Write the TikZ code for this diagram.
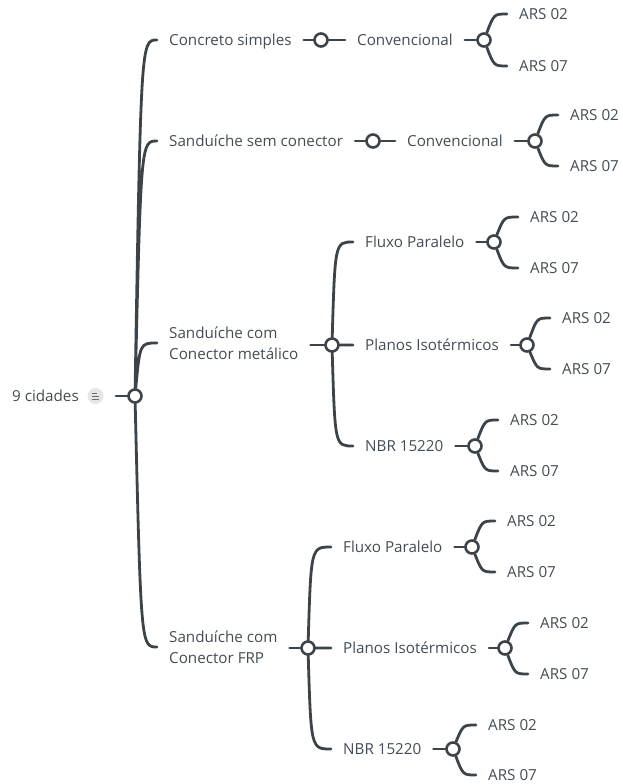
\documentclass[tikz,border=0pt]{standalone}
\usepackage{fontspec}
\setmainfont{Open Sans}
\usepackage{xcolor}
\usetikzlibrary{calc}
\definecolor{linegray}{HTML}{3C4349}
\definecolor{textgray}{HTML}{434C55}
\definecolor{notegray}{HTML}{E4E5E7}
\definecolor{noteline}{HTML}{6A6E73}
\newcommand{\topicfont}{\fontsize{15.2}{21}\selectfont}
\tikzset{
  topic/.style = {anchor=west, inner xsep=12pt, inner ysep=0pt, text=textgray,
                  font=\topicfont, text height=12.9pt, text depth=2pt},
  topictwo/.style = {anchor=west, inner xsep=12pt, inner ysep=0pt, text=textgray,
                     font=\topicfont, align=left},
  hub/.style = {circle, draw=linegray, fill=white, line width=2.6pt,
                minimum size=13pt, inner sep=0pt},
  note/.style = {circle, fill=notegray, minimum size=16pt, inner sep=0pt},
  link/.style = {draw=linegray, line width=2.8pt, line cap=round},
  twig/.style = {to path={.. controls ($(\tikztostart |- \tikztotarget)+(#1,0)$) .. (\tikztotarget)}},
  twig/.default = 4
}
\begin{document}
\begin{tikzpicture}[x=1pt, y=-1pt]
  \useasboundingbox (0,0) rectangle (622,784);
  % root topic
  \node[topic, inner xsep=0pt] (root) at (12,396) {9 cidades};
  \node[note] (rootnote) at (95.5,396) {};
  \draw[noteline, line width=0.9pt] ([shift={(-3.8,3)}]rootnote.center) -- ++(7.6,0)
        ([shift={(-3.8,0)}]rootnote.center) -- ++(7.6,0)
        ([shift={(-3.8,-3)}]rootnote.center) -- ++(5,0);
  \coordinate (rootend) at (116,396);
  \node[hub] (hubR) at (135,396) {};
  % first level
  \node[topic] (concreto) at (157,40) {Concreto simples};
  \node[topic] (semcon) at (157,141) {Sanduíche sem conector};
  \node[topictwo] (metal) at (157,343) {Sanduíche com\\Conector metálico};
  \node[topictwo] (frp) at (157,647) {Sanduíche com\\Conector FRP};
  % concreto simples
  \node[hub] (hubA) at (321,40) {};
  \node[topic] (convA) at (345,40) {Convencional};
  \node[hub] (hubA2) at (484,40) {};
  \node[topic] (arsA1) at (507,14) {ARS 02};
  \node[topic] (arsA2) at (507,66) {ARS 07};
  % sanduiche sem conector
  \node[hub] (hubB) at (373,141) {};
  \node[topic] (convB) at (395,141) {Convencional};
  \node[hub] (hubB2) at (535,141) {};
  \node[topic] (arsB1) at (558,115) {ARS 02};
  \node[topic] (arsB2) at (558,166) {ARS 07};
  % conector metalico
  \node[hub] (hubC) at (332,345) {};
  \node[topic] (fluxoC) at (353,242) {Fluxo Paralelo};
  \node[topic] (planosC) at (353,345) {Planos Isotérmicos};
  \node[topic] (nbrC) at (353,446) {NBR 15220};
  \node[hub] (hubC1) at (494,242) {};
  \node[topic] (arsC1) at (518,217) {ARS 02};
  \node[topic] (arsC2) at (518,268) {ARS 07};
  \node[hub] (hubC2) at (527,345) {};
  \node[topic] (arsC3) at (550,318) {ARS 02};
  \node[topic] (arsC4) at (550,369) {ARS 07};
  \node[hub] (hubC3) at (475,446) {};
  \node[topic] (arsC5) at (498,420) {ARS 02};
  \node[topic] (arsC6) at (498,471) {ARS 07};
  % conector FRP
  \node[hub] (hubD) at (308,648) {};
  \node[topic] (fluxoD) at (331,547) {Fluxo Paralelo};
  \node[topic] (planosD) at (331,648) {Planos Isotérmicos};
  \node[topic] (nbrD) at (331,749) {NBR 15220};
  \node[hub] (hubD1) at (472,547) {};
  \node[topic] (arsD1) at (495,521) {ARS 02};
  \node[topic] (arsD2) at (495,572) {ARS 07};
  \node[hub] (hubD2) at (505,648) {};
  \node[topic] (arsD3) at (528,623) {ARS 02};
  \node[topic] (arsD4) at (528,674) {ARS 07};
  \node[hub] (hubD3) at (453,749) {};
  \node[topic] (arsD5) at (476,725) {ARS 02};
  \node[topic] (arsD6) at (476,775) {ARS 07};
  % connectors
  \draw[link] (rootend) -- (hubR);
  \draw[link] (hubR) to[twig=6] (concreto) (hubR) to[twig=6] (semcon)
              (hubR) to[twig=5] (metal) (hubR) to[twig=6] (frp);
  \draw[link] (concreto) -- (hubA) -- (convA) -- (hubA2);
  \draw[link] (hubA2) to[twig=10] (arsA1) (hubA2) to[twig=10] (arsA2);
  \draw[link] (semcon) -- (hubB) -- (convB) -- (hubB2);
  \draw[link] (hubB2) to[twig=10] (arsB1) (hubB2) to[twig=10] (arsB2);
  \draw[link] (metal.east |- hubC) -- (hubC);
  \draw[link] (hubC) to[twig=3] (fluxoC) (hubC) -- (planosC) (hubC) to[twig=3] (nbrC);
  \draw[link] (fluxoC) -- (hubC1) (planosC) -- (hubC2) (nbrC) -- (hubC3);
  \draw[link] (hubC1) to[twig=10] (arsC1) (hubC1) to[twig=10] (arsC2);
  \draw[link] (hubC2) to[twig=10] (arsC3) (hubC2) to[twig=10] (arsC4);
  \draw[link] (hubC3) to[twig=10] (arsC5) (hubC3) to[twig=10] (arsC6);
  \draw[link] (frp.east |- hubD) -- (hubD);
  \draw[link] (hubD) to[twig=3] (fluxoD) (hubD) -- (planosD) (hubD) to[twig=3] (nbrD);
  \draw[link] (fluxoD) -- (hubD1) (planosD) -- (hubD2) (nbrD) -- (hubD3);
  \draw[link] (hubD1) to[twig=10] (arsD1) (hubD1) to[twig=10] (arsD2);
  \draw[link] (hubD2) to[twig=10] (arsD3) (hubD2) to[twig=10] (arsD4);
  \draw[link] (hubD3) to[twig=10] (arsD5) (hubD3) to[twig=10] (arsD6);
\end{tikzpicture}
\end{document}
